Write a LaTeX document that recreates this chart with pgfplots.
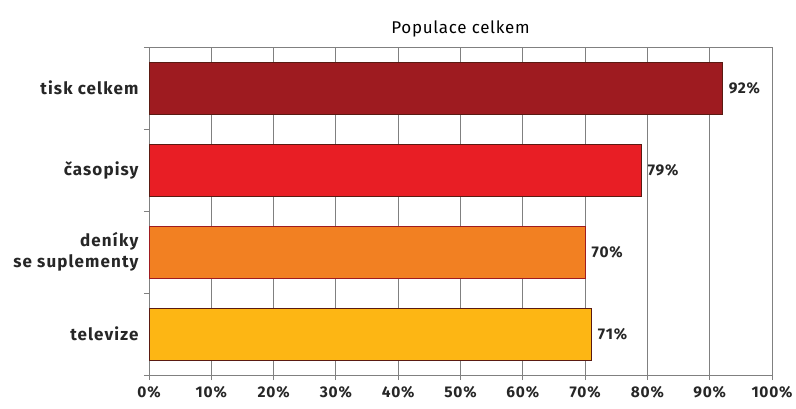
\documentclass[border=0pt]{standalone}
\usepackage{pgfplots}
\pgfplotsset{compat=1.18}
\usepackage{fontspec}
\setmainfont{Fira Sans}
\usetikzlibrary{calc}
\definecolor{c1}{HTML}{9E1B20}
\definecolor{c2}{HTML}{E81E25}
\definecolor{c3}{HTML}{F28022}
\definecolor{c4}{HTML}{FDB614}
\definecolor{edge}{HTML}{5A1A12}
\definecolor{gridc}{HTML}{808080}
\begin{document}
\begin{tikzpicture}
\begin{axis}[name=ax,
  scale only axis, width=623pt, height=328pt,
  xbar, bar shift=0pt, bar width=52pt,
  xmin=0, xmax=100,
  ymin=-0.5, ymax=3.5, y dir=reverse,
  xtick={0,10,...,100},
  xticklabel={\pgfmathprintnumber{\tick}\%},
  /pgf/number format/assume math mode=true,
  xticklabel style={font=\fontsize{15.5}{17}\selectfont\bfseries\addfontfeatures{LetterSpace=5}, text=black!85, yshift=-8pt},
  ytick={0,1,2,3},
  yticklabels={tisk celkem, časopisy, {deníky\\se suplementy}, televize},
  yticklabel style={align=right, font=\fontsize{17}{21}\selectfont\bfseries\addfontfeatures{LetterSpace=6.5}, text=black!85, xshift=-7pt},
  minor ytick={-0.5,0.5,1.5,2.5,3.5},
  major tick length=0pt,
  minor tick length=5pt,
  tick align=outside,
  extra x ticks={0,10,...,100}, extra x tick labels={},
  extra x tick style={major tick length=5pt, tick pos=bottom, grid=none},
  xmajorgrids, grid style={gridc, line width=0.9pt},
  axis line style={gridc, line width=0.9pt},
  every tick/.style={gridc, line width=0.9pt},
  xtick pos=bottom, ytick pos=left,
  title={Populace celkem},
  title style={font=\fontsize{17}{20}\selectfont\addfontfeatures{LetterSpace=4}, yshift=0pt},
  nodes near coords={\pgfmathprintnumber{\pgfplotspointmeta}\%},
  nodes near coords style={font=\fontsize{15.5}{17}\selectfont\bfseries\addfontfeatures{LetterSpace=5}, text=black!85, anchor=west, xshift=3pt},
  point meta=x,
]
\addplot[fill=c1, draw=edge, line width=0.6pt] coordinates {(92,0)};
\addplot[fill=c2, draw=edge, line width=0.6pt] coordinates {(79,1)};
\addplot[fill=c3, draw=c1, line width=0.6pt] coordinates {(70,2)};
\addplot[fill=c4, draw=edge, line width=0.6pt] coordinates {(71,3)};
\end{axis}
\path ($(ax.south west)+(-149pt,-34pt)$) rectangle ($(ax.north east)+(24pt,47pt)$);
\end{tikzpicture}
\end{document}
